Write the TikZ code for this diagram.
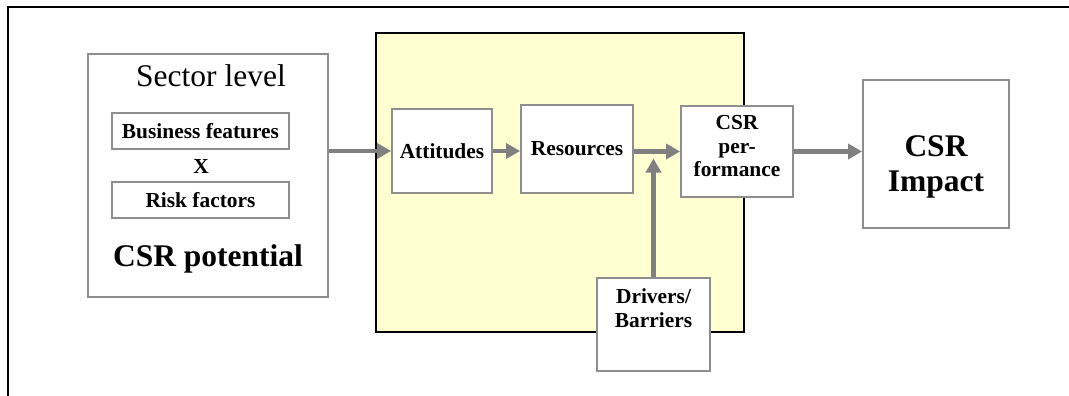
\documentclass[tikz,border=0pt]{standalone}
\usepackage{fontspec}
\setmainfont{Liberation Serif}
\usetikzlibrary{arrows.meta}
\definecolor{boxgray}{HTML}{8E8E8E}
\definecolor{arrgray}{HTML}{808080}
\definecolor{paleyellow}{HTML}{FFFFD2}
\begin{document}
\begin{tikzpicture}[x=1pt,y=-1pt,
  box/.style={draw=boxgray, line width=1.8pt, fill=white, rectangle, inner sep=0pt},
  small/.style={font=\fontsize{21.4}{23.8}\selectfont\bfseries, align=center, inner sep=0pt},
  bigr/.style={font=\fontsize{31.5}{35}\selectfont, align=center, inner sep=0pt},
  bigb/.style={font=\fontsize{31.5}{35}\selectfont\bfseries, align=center, inner sep=0pt},
  flow/.style={draw=arrgray, line width=4.5pt, -{Triangle[length=14pt,width=15pt]}}]
\useasboundingbox (0,0) rectangle (1069,396);
% outer frame (top and left edges)
\coordinate (fbl) at (8,396);
\coordinate (ftl) at (8,7);
\coordinate (ftr) at (1069,7);
\draw[line width=2pt, black] (fbl) -- (ftl) -- (ftr);
% yellow firm-level area
\draw[line width=1.8pt, black, fill=paleyellow] (376,33) rectangle (744,332);
% sector panel
\node[box, minimum width=240, minimum height=243] (sector) at (208,175.5) {};
\node[bigr, anchor=base] (sectorlbl) at (211,87) {Sector level};
\node[box, small, minimum width=177, minimum height=36] (busf) at (200.5,131) {Business features};
\node[small, anchor=base] (xsign) at (201,173) {X};
\node[box, small, minimum width=177, minimum height=36] (risk) at (200.5,200) {Risk factors};
\node[bigb, anchor=base] (potential) at (208,266) {CSR potential};
% firm boxes
\node[box, small, minimum width=100, minimum height=84] (att) at (442,151) {Attitudes};
\node[box, small, minimum width=112, minimum height=88] (res) at (577,149) {Resources};
\node[box, minimum width=112, minimum height=91] (perf) at (737,151.5) {};
\node[small, anchor=north] (perftxt) at (737,115) {CSR\\per-\\formance};
\node[box, minimum width=113, minimum height=93] (drv) at (653.5,324.5) {};
\node[small, anchor=north] (drvtxt) at (653.5,288.5) {Drivers/\\Barriers};
\node[box, minimum width=146, minimum height=148] (impact) at (936,154) {};
\node[bigb, anchor=north] (impacttxt) at (936,135) {CSR\\Impact};
% connectors
\coordinate (join) at (drv.north |- perf.west);
\draw[flow] (sector.east |- att.west) -- (att.west);
\draw[flow] (att.east) -- (att.east -| res.west);
\draw[flow] (res.east |- perf.west) -- (perf.west);
\draw[flow] (drv.north) -- ([yshift=-7pt]join);
\draw[flow] (perf.east) -- (perf.east -| impact.west);
\end{tikzpicture}
\end{document}
